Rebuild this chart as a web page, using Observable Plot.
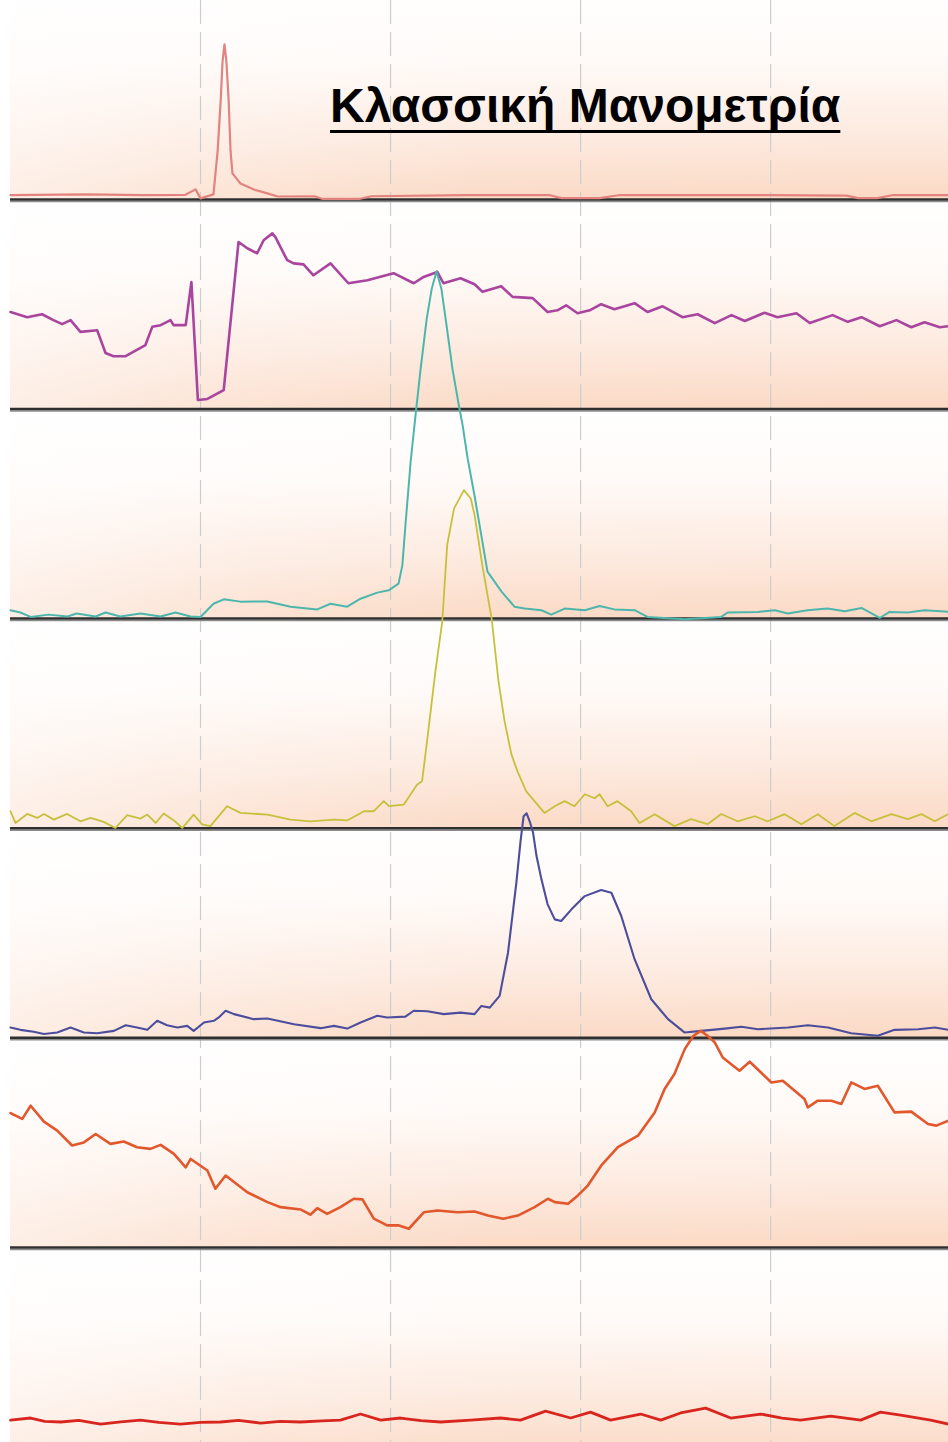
<!DOCTYPE html>
<html><head><meta charset="utf-8">
<script src="https://cdn.jsdelivr.net/npm/d3@7"></script>
<script src="https://cdn.jsdelivr.net/npm/@observablehq/plot@0.6"></script>
<style>
body{margin:0;background:#fff}
#wrap{position:relative;width:948px;height:1442px;overflow:hidden}
#title{position:absolute;left:330px;top:82px;font:bold 48px "Liberation Sans",Arial,sans-serif;line-height:48px;
text-decoration:underline;text-decoration-thickness:3px;text-underline-offset:8px;text-decoration-skip-ink:none;white-space:nowrap;color:#000}
</style>
</head><body><div id="wrap"><div id="title">Κλασσική Μανομετρία</div></div>
<script>
// time in seconds, pressure per channel (relative to its own baseline)
const tEnd = 24.68;
const gridTimes = [5, 10, 15, 20];
const channelColors = ["#e3837f", "#a9449f", "#4db6ac", "#c7c03c", "#4c4d9c", "#e2572b", "#d8261f"];
const channelWidths = [2.2, 2.6, 2.0, 1.8, 2.1, 2.6, 2.8];

const ch1 = [[0,2],[2,2.4],[3.5,2],[4.6,2.2],[4.87,4.8],[5.0,0.5],[5.34,2.4],[5.45,23],[5.53,47],[5.58,66],[5.63,74],[5.68,66],[5.74,47],[5.79,23],[5.84,12.4],[6.05,7.6],[6.39,4.8],[6.76,2.9],[7.03,1.4],[8,1.5],[8.2,0.3],[9.2,0.3],[9.5,1.5],[12,2],[14.2,2],[14.5,0.6],[15.5,0.6],[16,2],[20,2],[22,1.8],[22.3,0.6],[22.8,0.6],[23.2,2],[24.68,2]];

const ch2 = [[0,46.3],[0.44,43.8],[0.83,45.2],[1.13,42.4],[1.36,40.5],[1.58,42.4],[1.84,36.8],[2.28,37.6],[2.5,26.7],[2.71,25.2],[3.03,25.2],[3.55,30.5],[3.73,39.2],[3.95,40],[4.21,42.4],[4.29,40],[4.61,40],[4.76,60.6],[4.93,4.3],[5.18,4.8],[5.61,9],[6.0,79.7],[6.23,76.7],[6.49,74.3],[6.66,80.5],[6.89,83.8],[6.97,82],[7.28,71],[7.45,69.5],[7.71,69],[7.97,63.8],[8.42,69.5],[8.89,60],[9.39,61.4],[10.08,64.8],[10.61,60],[10.87,63],[11.23,65.4],[11.39,60],[11.84,62.4],[12.21,59.5],[12.42,55.9],[12.91,58.6],[13.21,53.5],[13.74,52.9],[14.13,46.3],[14.39,47.1],[14.62,49.5],[14.92,45.7],[15.24,47.1],[15.54,50],[15.89,47.6],[16.42,50.5],[16.76,46.3],[17.16,49],[17.68,43.8],[18.08,45.2],[18.53,41],[18.97,44.8],[19.32,42],[19.84,45.9],[20.18,43.8],[20.68,45.7],[21.03,41],[21.63,44.8],[22.03,41.6],[22.39,43.8],[22.87,39.5],[23.31,42.4],[23.7,39],[24.05,41.4],[24.45,39],[24.68,39.5]];

const ch3 = [[0,4],[0.26,2.9],[0.53,0.8],[1.0,1.9],[1.5,1],[1.74,2.4],[2.24,1],[2.5,2.9],[2.89,1],[3.42,2.4],[3.95,1],[4.34,2.9],[4.74,1],[5.0,0.8],[5.34,7.1],[5.61,9.2],[6.05,8.1],[6.76,8.2],[7.37,5.7],[8.07,4.4],[8.42,7.1],[8.86,5.7],[9.21,9.5],[9.65,12.4],[9.95,13.5],[10.21,16.7],[10.31,25.4],[10.39,44.3],[10.53,75.2],[10.66,97.6],[10.79,119],[10.95,142.9],[11.08,157.1],[11.21,165.7],[11.34,157.1],[11.45,142.9],[11.63,119],[11.79,102.4],[11.89,92.9],[12.03,76.2],[12.21,58.6],[12.55,22.4],[12.92,12.9],[13.26,5.7],[13.53,4.8],[13.97,4],[14.23,1.9],[14.58,4.8],[15.11,4],[15.5,6],[15.89,4.4],[16.42,4],[16.76,0.8],[17.74,-0.3],[18.7,0.8],[18.87,2.9],[19.66,3.2],[20.11,4],[20.45,2.4],[20.97,4],[21.5,4.8],[21.95,3.5],[22.39,5.1],[22.87,0.3],[23.13,3.2],[23.61,2.9],[24.05,4],[24.68,3.2]];

const ch4 = [[0,8.1],[0.13,2.5],[0.44,6.8],[0.7,4.9],[0.88,6.8],[1.14,4.1],[1.49,6.8],[1.84,3.3],[2.11,4.9],[2.45,3],[2.76,0.1],[3.07,6.2],[3.42,4.6],[3.6,6.5],[3.82,2.5],[4.03,7],[4.3,3.7],[4.52,0.1],[4.82,6.5],[5.04,1.8],[5.26,1],[5.7,10.5],[6.05,7.3],[6.76,6.5],[7.37,4.1],[7.89,3.3],[8.51,4.1],[8.86,3.7],[9.3,8.1],[9.56,8.1],[9.82,12.9],[9.96,10.5],[10.35,11.3],[10.7,20.8],[10.83,22.4],[10.97,43],[11.18,74.8],[11.36,98.6],[11.49,135.2],[11.67,152.5],[11.93,161.3],[12.11,157.3],[12.21,149.5],[12.42,124.8],[12.66,100],[12.84,70],[13.0,51],[13.18,35.2],[13.34,27.1],[13.57,17.6],[14.05,7.3],[14.32,10.5],[14.58,12.9],[14.84,10.5],[15.11,16.2],[15.37,14.3],[15.5,16.2],[15.71,10.5],[15.97,12.9],[16.33,8.1],[16.55,2.5],[16.95,6.7],[17.47,1],[17.91,4.3],[18.34,1.9],[18.7,6.8],[19.13,3.3],[19.58,5.7],[19.92,3.3],[20.37,6.7],[20.81,1.9],[21.24,6.7],[21.68,1],[22.21,7.3],[22.65,3.3],[23.18,6.7],[23.61,4.3],[23.97,6.7],[24.32,3.3],[24.68,6.8]];

const ch5 = [[0,4.9],[0.26,3.8],[0.61,2.9],[0.88,1.8],[1.23,2.5],[1.58,4.9],[1.93,2.5],[2.28,2.2],[2.72,3.3],[3.03,6],[3.33,4.9],[3.6,3.8],[3.86,8.1],[4.12,6],[4.39,4.9],[4.65,5.7],[4.82,3.3],[5.09,7.3],[5.35,8.1],[5.48,9.7],[5.66,12.9],[5.88,11.3],[6.4,8.9],[6.76,9.2],[7.46,6.5],[8.16,4.6],[8.51,5.7],[8.86,4.4],[9.21,7.3],[9.65,10.5],[9.91,9.7],[10.39,10.1],[10.61,12.9],[10.97,12.7],[11.4,11.3],[11.84,12],[12.21,11.3],[12.39,15.2],[12.61,14.4],[12.87,20],[13.09,40.6],[13.31,74],[13.42,93.8],[13.5,105.7],[13.58,107.1],[13.66,103.3],[13.75,97.8],[13.84,86.7],[13.97,75.6],[14.13,63.8],[14.32,56.5],[14.49,55.7],[14.76,61.3],[15.11,67.6],[15.54,70.5],[15.81,69.2],[16.07,58.1],[16.42,37.5],[16.86,18.4],[17.3,8.9],[17.74,2.5],[18.18,3.3],[18.79,4.4],[19.23,5.3],[19.67,4.1],[20.46,4.9],[20.98,6],[21.51,4.9],[22.12,2.2],[22.82,1],[23.26,3.8],[23.88,4.1],[24.32,4.9],[24.68,3.8]];

const ch6 = [[0,64.1],[0.31,61.3],[0.53,67.6],[0.88,60],[1.23,55.7],[1.62,48.6],[1.93,50.1],[2.24,54.1],[2.63,49.4],[2.98,50.5],[3.33,47.8],[3.68,47],[3.95,48.9],[4.3,44.6],[4.61,38.2],[4.74,42.2],[5.18,36.7],[5.39,28],[5.66,34.3],[6.23,26.3],[6.76,21.6],[7.11,19.2],[7.63,18.1],[7.89,15.6],[8.07,18.7],[8.33,16],[8.68,19.2],[9.03,23.2],[9.26,22.9],[9.56,13.7],[9.91,10.5],[10.22,10.5],[10.48,8.9],[10.88,16.8],[11.23,17.6],[11.76,16.8],[12.21,17.1],[12.56,15.2],[12.96,13.7],[13.35,15.2],[13.79,19.2],[14.14,23.2],[14.32,21.6],[14.67,20.8],[14.93,24.8],[15.19,29.5],[15.54,39],[15.98,47.8],[16.51,53.3],[16.95,64.4],[17.21,75.6],[17.47,82.7],[17.74,94.6],[17.97,101],[18.16,103.3],[18.34,101],[18.53,97.8],[18.74,90.6],[19.18,84.3],[19.45,88.6],[20.02,78.7],[20.32,79.5],[20.89,70.8],[20.98,66.8],[21.24,70],[21.6,70],[21.86,68.4],[22.12,78.7],[22.47,75.6],[22.82,77.1],[23.26,64.4],[23.7,64.8],[24.14,58.9],[24.36,58.1],[24.68,60.5]];

const ch7 = [[0,17.6],[0.53,18.6],[0.9,17],[1.32,16.7],[1.8,17.5],[2.37,15.7],[2.9,16.8],[3.42,17.6],[3.9,16.5],[4.47,15.7],[5.0,16.5],[5.53,16.7],[6.0,17.5],[6.58,16.2],[7.1,17],[7.63,16.7],[8.2,17.2],[8.68,17.6],[9.21,20.5],[9.74,17.6],[10.26,18.6],[10.8,17.4],[11.32,16.7],[12.11,17.6],[12.89,18.6],[13.42,17.6],[14.08,21.9],[14.74,18.6],[15.26,21.4],[15.79,17.6],[16.58,20.5],[17.11,17.6],[17.63,21],[18.29,23.3],[18.95,18.6],[19.74,20.5],[20.3,18.5],[20.79,17.6],[21.58,19.5],[22.37,17.6],[22.89,21.4],[23.42,20],[24.21,17.6],[24.68,15.7]];

const traces = [ch1, ch2, ch3, ch4, ch5, ch6, ch7];
const nCh = traces.length;
const span = 100; // pressure units per channel strip
const panels = d3.range(nCh).map(k => ({k, lo: (nCh - 1 - k) * span, hi: (nCh - k) * span}));
const separators = panels.filter(p => p.lo > 0).map(p => p.lo);

const svg = Plot.plot({
  width: 948, height: 1442,
  marginLeft: 10, marginRight: 0, marginTop: 0, marginBottom: 0,
  x: {domain: [0, tEnd], axis: null},
  y: {domain: [6.918, 694.9], axis: null},
  style: {background: "#fff"},
  marks: [
    Plot.rect(panels, {x1: 0, x2: tEnd, y1: "lo", y2: "hi", fill: "url(#bgV)"}),
    Plot.rect(panels, {x1: 0, x2: tEnd, y1: "lo", y2: "hi", fill: "url(#bgH)"}),
    Plot.ruleX(gridTimes, {stroke: "#cdcdcd", strokeDasharray: "24,8", strokeWidth: 1.2}),
    Plot.ruleY(separators, {stroke: "#8a8a8a", strokeWidth: 1.5, dy: 2}),
    Plot.ruleY(separators, {stroke: "#2f2f2f", strokeWidth: 2.5}),
    ...traces.map((pts, k) => Plot.line(pts, {
      x: d => d[0], y: d => panels[k].lo + d[1],
      stroke: channelColors[k], strokeWidth: channelWidths[k], strokeLinejoin: "round"
    }))
  ]
});

const defs = d3.select(svg).insert("defs", ":first-child");
const gv = defs.append("linearGradient").attr("id", "bgV").attr("x1", 0).attr("x2", 0).attr("y1", 0).attr("y2", 1);
[["0%", "#ffffff"], ["35%", "#fffaf7"], ["70%", "#fdeadf"], ["100%", "#fbd9c4"]].forEach(([o, c]) => gv.append("stop").attr("offset", o).attr("stop-color", c));
const gh = defs.append("linearGradient").attr("id", "bgH").attr("x1", 0).attr("x2", 1).attr("y1", 0).attr("y2", 0);
[["0%", "#ffffff", 0.55], ["25%", "#ffffff", 0.25], ["50%", "#ffffff", 0.05], ["100%", "#ffffff", 0]].forEach(([o, c, a]) => gh.append("stop").attr("offset", o).attr("stop-color", c).attr("stop-opacity", a));

document.getElementById("wrap").prepend(svg);
</script>
</body></html>
